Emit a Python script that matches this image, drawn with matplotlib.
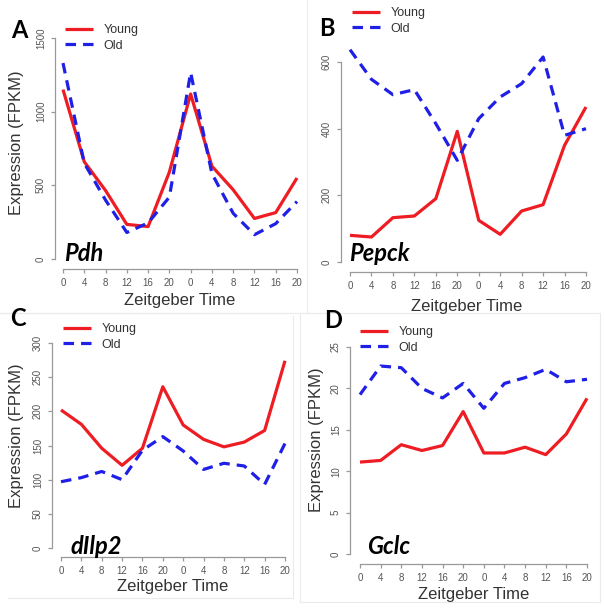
import numpy as np
import matplotlib
matplotlib.use("Agg")
import matplotlib.pyplot as plt
from matplotlib.lines import Line2D

plt.rcParams['font.family'] = ['Liberation Sans', 'DejaVu Sans']

W, H = 604, 609

# Zeitgeber time labels (two days)
zt_labels = ["0", "4", "8", "12", "16", "20", "0", "4", "8", "12", "16", "20"]

# Panel A: Pdh
pdh_young = [1150, 660, 465, 235, 220, 590, 1120, 630, 470, 275, 315, 550]
pdh_old = [1330, 650, 400, 180, 245, 420, 1265, 580, 310, 165, 240, 390]
pdh_yticks = [0, 500, 1000, 1500]

# Panel B: Pepck
pepck_young = [80, 75, 133, 138, 190, 392, 125, 83, 153, 172, 350, 465]
pepck_old = [637, 548, 502, 517, 415, 305, 430, 495, 535, 615, 380, 400]
pepck_yticks = [0, 200, 400, 600]

# Panel C: dIlp2
dilp2_young = [202, 181, 146, 121, 146, 236, 180, 159, 148, 155, 172, 274]
dilp2_old = [97, 103, 112, 100, 143, 163, 142, 115, 124, 120, 93, 153]
dilp2_yticks = [0, 50, 100, 150, 200, 250, 300]

# Panel D: Gclc
gclc_young = [11.1, 11.3, 13.2, 12.5, 13.1, 17.2, 12.2, 12.2, 12.9, 12.0, 14.5, 18.8]
gclc_old = [19.25, 22.7, 22.5, 20.0, 18.85, 20.6, 17.6, 20.6, 21.3, 22.3, 20.8, 21.1]
gclc_yticks = [0, 5, 10, 15, 20, 25]

RED = '#ee1d23'
BLUE = '#1f1fe6'
GREY = '#555555'

fig = plt.figure(figsize=(W / 100, H / 100), dpi=100)


def fx(px):
    return px / W


def fy(py):
    return 1 - py / H


def panel(young, old, yticks, gene, letter, geo, legend_at, gene_at, letter_at,
          ylab_at, xlab_at):
    # geo: y-axis x, x-axis y, px of first/last x tick, px of y=0 and top tick
    yax, xax, x0, x11, y0, ytop, right, top = geo
    sx = (x11 - x0) / 11
    sy = (y0 - ytop) / yticks[-1]
    ax = fig.add_axes([fx(yax), fy(xax), (right - yax) / W, (xax - top) / H])
    ax.patch.set_alpha(0)
    ax.set_xlim((yax - x0) / sx, 11 + (right - x11) / sx)
    ax.set_ylim(-(xax - y0) / sy, yticks[-1] + (ytop - top) / sy)

    x = np.arange(len(zt_labels))
    ax.plot(x, young, color=RED, lw=2.3, label="Young", solid_capstyle='butt')
    ax.plot(x, old, color=BLUE, lw=2.3, ls=(0, (3.3, 2.2)), label="Old")

    for s in ['top', 'right']:
        ax.spines[s].set_visible(False)
    for s in ['left', 'bottom']:
        ax.spines[s].set_color('#999999')
        ax.spines[s].set_linewidth(0.9)
    ax.spines['left'].set_bounds(yticks[0], yticks[-1])
    ax.spines['bottom'].set_bounds(0, 11)

    ax.set_xticks(x)
    ax.set_xticklabels(zt_labels)
    ax.set_yticks(yticks)
    ax.set_yticklabels([str(t) for t in yticks])
    ax.tick_params(axis='both', colors='#999999', labelcolor=GREY, labelsize=7,
                   length=3, width=0.9, pad=3.5)
    ax.tick_params(axis='y', labelrotation=90)
    for t in ax.get_yticklabels():
        t.set_va('center')

    lx, ly = legend_at
    ax.legend(loc='upper left', bbox_to_anchor=(fx(lx), fy(ly)),
              bbox_transform=fig.transFigure, frameon=False, fontsize=9,
              borderpad=0, borderaxespad=0, handlelength=2.2,
              handletextpad=0.9, labelspacing=0.3, labelcolor='#333333')

    fig.text(fx(gene_at[0]), fy(gene_at[1]), gene, family=['Lato', 'DejaVu Sans'],
             fontsize=17, fontweight='bold', style='italic', ha='left', va='center')
    fig.text(fx(letter_at[0]), fy(letter_at[1]), letter, family=['Lato', 'DejaVu Sans'],
             fontsize=17, fontweight='bold', ha='center', va='center')
    if ylab_at is not None:
        fig.text(fx(ylab_at[0]), fy(ylab_at[1]), "Expression (FPKM)", fontsize=12,
                 rotation=90, ha='center', va='center', color='#333333')
    fig.text(fx(xlab_at[0]), fy(xlab_at[1]), "Zeitgeber Time", fontsize=12,
             ha='center', va='center', color='#333333')
    return ax


panel(pdh_young, pdh_old, pdh_yticks, "Pdh", "A",
      (55, 269, 63, 297, 259, 38, 300, 20),
      (65, 24), (64, 253), (19, 30), (17, 143), (180, 301))
panel(pepck_young, pepck_old, pepck_yticks, "Pepck", "B",
      (341, 272, 350, 586, 262, 62, 590, 5),
      (352, 7), (349, 253), (327, 28), None, (467, 306))
panel(dilp2_young, dilp2_old, dilp2_yticks, "dIlp2", "C",
      (52, 557, 61, 285, 548, 343, 290, 320),
      (63, 323), (71, 546), (18, 318), (17, 436), (173, 587))
panel(gclc_young, gclc_old, gclc_yticks, "Gclc", "D",
      (350, 564, 360, 587, 554, 347, 592, 320),
      (360, 326), (367, 546), (333, 320), (316, 440), (474, 595))

# faint panel frames
frame_segments = [
    ((307, 0), (307, 313)), ((0, 313), (307, 313)),
    ((0, 313), (293, 313)), ((293, 316), (293, 598)), ((8, 598), (293, 598)),
    ((300, 313), (600, 313)), ((300, 313), (300, 602)), ((300, 602), (600, 602)),
    ((600, 313), (600, 602)),
]
for (xa, ya), (xb, yb) in frame_segments:
    fig.add_artist(Line2D([fx(xa), fx(xb)], [fy(ya), fy(yb)], color='#ebebeb', lw=0.8))

fig.savefig("out.png", dpi=100)
